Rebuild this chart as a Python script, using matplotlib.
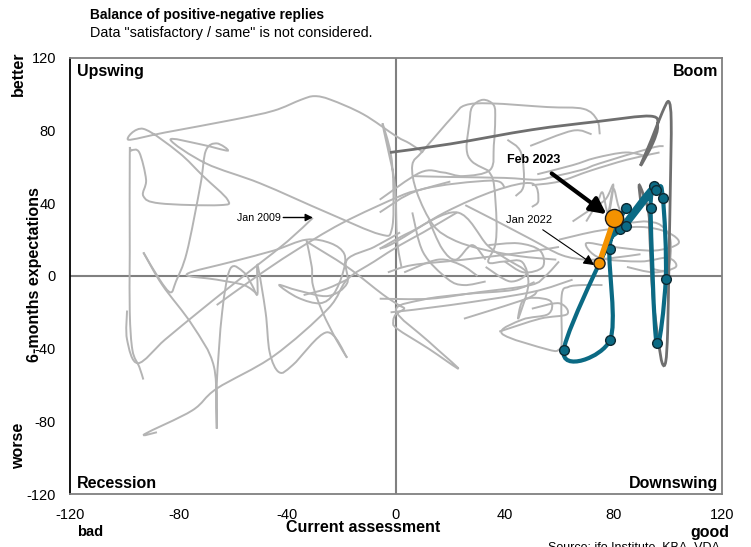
import numpy as np
import matplotlib
matplotlib.use("Agg")
import matplotlib.pyplot as plt
from matplotlib.path import Path
from matplotlib.patches import PathPatch

plt.rcParams["font.family"] = ["Liberation Sans", "DejaVu Sans"]
plt.rcParams["axes.unicode_minus"] = False

# ---- data (balance of replies) ----
# older history, light grey strokes (x = current assessment, y = expectations)
hist_a_x = [10, 5, 0, -12, -24, -30, -35, -45, -60, -85, -98.5, -93, -80, -71, -62, -65, -87, -93, -92, -94.5, -97.5, -98, -98, -98, -97, -94.5, -93]
hist_a_y = [68, 73, 77, 89, 97, 99, 97, 91, 86, 79, 75, 81, 68, 55, 42, 39, 40, 44, 53, 68, 69, 66, 13, -20, -41, -50, -57]

hist_b_x = [-30.6, -40, -51, -62, -72, -85, -95, -99, -99]
hist_b_y = [32, 19, 6, -7, -19, -35, -48, -35, -19]

hist_c_x = [2, 0.4, -0.4, -3, -5, -2, -1, -1.5, -6, -25.5, -50, -70, -83, -72, -62, -66, -70, -72, -77, -81, -83, -87, -93]
hist_c_y = [5, 20, 50, 70, 84, 68, 50, 26, 23, 35, 51, 62, 75, 72.5, 69, 73, 69, 50, 13, -3, -9, -2, 13]

hist_d_x = [-93, -86, -75, -67, -66, -66, -64, -61, -56, -53, -51, -51, -48, -46.5, -43, -38, -25.5, -18]
hist_d_y = [13, -5, -27, -50, -84, -60, -20, 4, 2, -5, -10, 6, -20, -42, -53, -49, -31, -45]

hist_e_x = [-88, -92.5, -75, -66, -45, -25, -18, -8, 1.5, 10, 22.5]
hist_e_y = [-86, -87, -74, -62, -44, -18, -2, 8, 17, 24, 35]

hist_f_x = [-66, -52, -38, -20, 1.5, 9, 20]
hist_f_y = [-16, -1, 13, 29, 44, 47.5, 52]

hist_g_x = [-51, -56, -66, -77, -60, -45, -33, -24, -19, -19.5, -23, -28, -36, -43, -36, -25, -18, -18, -8, 1.5]
hist_g_y = [-10, -5, -2, 1, 8, 14, 20, 18, 12, 2, -10, -15, -12, -5, -8, -11, -4, 9, 16, 24]

hist_h_x = [-33, -31, -30.6, -27, -22, -18]
hist_h_y = [20, 5, -5, -20, -35, -45]

hist_i_x = [-33, -18, -5, 1, 3, 0, -1, 0.4, 12, 23, 12, 0, 10, 25, 43, 51]
hist_i_y = [19, 5, -10, -16, -18, -21, -25, -29, -40, -51, -36, -19, -13, -10, -7.7, -3.3]

hist_j_x = [75, 74, 69, 55.7, 35, 25.5, 21, 10, 6, 7.7, 13.7, 21, 31, 45, 59]
hist_j_y = [78, 86, 92, 93, 95, 94, 88, 69, 61, 46, 28, 20, 15, 11, 9]

hist_k_x = [-6, 9, 17.3, 24.7, 34.7, 36, 36.5, 36, 32, 28, 27, 26, 28, 34]
hist_k_y = [42, 57, 57, 55, 58.5, 72, 86, 94, 97, 93, 84, 70, 63, 58]

hist_l_x = [6, 20, 40, 52, 58.7, 68.6, 75, 94, 98.5]
hist_l_y = [55, 54.5, 54, 53, 55, 58.5, 62, 70.5, 71.5]

hist_m_x = [25.5, 36.5, 50, 61, 70.5, 80, 90]
hist_m_y = [39, 30.6, 20, 11.5, 9, 10, 12]

hist_n_x = [-6, -0.4, 18, 36.5, 50, 52.4, 50]
hist_n_y = [15, 18.5, 35, 47, 51, 41.5, 38]

hist_o_x = [34, 36, 37, 36.5, 34, 40, 46.5, 48.7, 45, 46.5, 51, 57, 56, 46.5, 39, 56, 60, 61, 61, 63.5, 68.6, 76]
hist_o_y = [58, 51, 30, 17, 7.6, 8, 7.6, -5, -23.5, -14, -12, -14, -21, -24, -31.7, -40.5, -40.5, -36, -10.5, -6, -5, -5]

hist_p_x = [52, 65, 73.4, 84.5, 92]
hist_p_y = [56, 61, 65, 68, 66]

hist_q_x = [-6, 12.5, 30, 49.5, 55, 60]
hist_q_y = [-12.5, -12.5, -9, -5, 0, 8]

hist_r_x = [-2, 20, 49.5, 65]
hist_r_y = [-20, -16, -9, -2]

hist_s_x = [60, 75, 90, 100, 104, 95, 80, 70, 75, 90, 100, 103, 95, 85]
hist_s_y = [20, 25, 27, 24, 18, 14, 16, 18, 10, 8, 10, 5, 2, 5]

hist_t_x = [70, 74, 76, 78, 80, 82, 85, 92, 97.4, 101, 100, 94]
hist_t_y = [30, 40, 46, 35, 48, 38, 30, 30, 28, 20, 4, 4]

hist_u_x = [50, 60, 71.6, 85, 97]
hist_u_y = [50, 52, 58, 64, 68]

hist_v_x = [-6, 5, 22.5, 33.6, 40, 48, 42, 33]
hist_v_y = [15, 24, 35, 17, 10, 2, -3, 5]

hist_w_x = [-6, 9, 34.7, 40]
hist_w_y = [35, 47.5, 52.5, 49]

hist_x_x = [6, 10, 19, 25, 33]
hist_x_y = [35, 13, -1.6, -5, -3]

hist_y_x = [34, 45, 53, 54, 47, 40]
hist_y_y = [17, 18, 14, 5, 2, 8]

hist_z_x = [-3, 6, 25, 47, 60]
hist_z_y = [2, 6, 9, 13, 16]

hist_aa_x = [25, 48, 52]
hist_aa_y = [-23.5, -12.5, -8]

hist_ab_x = [38, 53, 63, 60, 50]
hist_ab_y = [-30.6, -23.5, -21, -15, -18]

hist_ac_x = [49.4, 65, 72]
hist_ac_y = [71.6, 80, 78]

hist_ad_x = [41, 46, 47, 44]
hist_ad_y = [75, 68, 50, 44]

hist_ae_x = [3, 15.5, 24, 30]
hist_ae_y = [2, 9, 6, 0]

hist_af_x = [12, 17, 22, 28, 33]
hist_af_y = [31, 15, 9, 17, 9]

hist_ag_x = [65, 70, 77, 80, 78]
hist_ag_y = [30, 35, 42, 50, 30]

hist_ah_x = [-34, -25.5, -18]
hist_ah_y = [-10.5, -7, -2]

hist_x = [hist_a_x, hist_b_x, hist_c_x, hist_d_x, hist_e_x, hist_f_x, hist_g_x, hist_h_x,
          hist_i_x, hist_j_x, hist_k_x, hist_l_x, hist_m_x, hist_n_x, hist_o_x, hist_p_x,
          hist_q_x, hist_r_x, hist_s_x, hist_t_x, hist_u_x, hist_v_x, hist_w_x, hist_x_x,
          hist_y_x, hist_z_x, hist_aa_x, hist_ab_x, hist_ac_x, hist_ad_x, hist_ae_x,
          hist_af_x, hist_ag_x, hist_ah_x]
hist_y = [hist_a_y, hist_b_y, hist_c_y, hist_d_y, hist_e_y, hist_f_y, hist_g_y, hist_h_y,
          hist_i_y, hist_j_y, hist_k_y, hist_l_y, hist_m_y, hist_n_y, hist_o_y, hist_p_y,
          hist_q_y, hist_r_y, hist_s_y, hist_t_y, hist_u_y, hist_v_y, hist_w_y, hist_x_y,
          hist_y_y, hist_z_y, hist_aa_y, hist_ab_y, hist_ac_y, hist_ad_y, hist_ae_y,
          hist_af_y, hist_ag_y, hist_ah_y]

# recent history (darker grey)
recent_x = [-2.2, 20, 50, 74, 93.7, 96.3, 94.5, 90, 94, 98, 100.4, 101.3, 101, 100.5, 100, 99.3, 98, 96.5, 94.5, 93.5, 93, 91, 89.5, 90]
recent_y = [68, 72.7, 80.5, 85, 88, 82.5, 73, 60.7, 75, 90, 96, 85, 50, 10, -30, -47, -48, -35, -10, 20, 35, 45, 50, 42]

# last twelve months (teal), Jan 2022 ... Jan 2023
last_x = [74.8, 84.5, 61.7, 78.7, 78.6, 82.4, 94.9, 93.7, 95.9, 99.3, 98.2, 95.6, 84.8]
last_y = [7.1, 37.7, -41, -35.5, 14.9, 25.8, 49.6, 37.3, -37, -1.5, 43.2, 47.4, 27.7]

# highlighted step (orange)
step_x = [74.8, 80.4]
step_y = [7.1, 31.7]

ticks = [-120, -80, -40, 0, 40, 80, 120]

GREY = "#b4b4b4"
DARK = "#6f6f6f"
TEAL = "#0b6a84"
ORANGE = "#f39200"


def smooth(xs, ys):
    # Catmull-Rom style smoothing, like Excel's "smoothed line"
    p = np.column_stack([xs, ys]).astype(float)
    verts = [p[0]]
    codes = [Path.MOVETO]
    n = len(p)
    for i in range(n - 1):
        p0 = p[i - 1] if i > 0 else p[i]
        p1 = p[i]
        p2 = p[i + 1]
        p3 = p[i + 2] if i + 2 < n else p[i + 1]
        verts += [p1 + (p2 - p0) / 6, p2 - (p3 - p1) / 6, p2]
        codes += [Path.CURVE4] * 3
    return Path(verts, codes)


fig = plt.figure(figsize=(7.51, 5.47), dpi=100)
ax = fig.add_axes([70 / 751, 1 - 494 / 547, 652 / 751, 436 / 547])
ax.set_xlim(-120, 120)
ax.set_ylim(-120, 120)

for xs, ys in zip(hist_x, hist_y):
    ax.add_patch(PathPatch(smooth(xs, ys), fc="none", ec=GREY, lw=1.4, zorder=2))
ax.add_patch(PathPatch(smooth(recent_x, recent_y), fc="none", ec=DARK, lw=2, zorder=3))
ax.add_patch(PathPatch(smooth(last_x, last_y), fc="none", ec=TEAL, lw=3, zorder=4,
                       capstyle="round"))
ax.plot(last_x[1:], last_y[1:], ls="none", marker="o", ms=7, mfc=TEAL, mec="#0d2a33",
        mew=1, zorder=5)
ax.plot(step_x, step_y, color=ORANGE, lw=4, zorder=6, solid_capstyle="round")
ax.plot(step_x[0], step_y[0], marker="o", ms=8, mfc=ORANGE, mec="#1a1a1a", mew=1, zorder=7)
ax.plot(step_x[1], step_y[1], marker="o", ms=13, mfc=ORANGE, mec="#1a1a1a", mew=1, zorder=7)

ax.axhline(0, color="#808080", lw=1.5, zorder=1)
ax.axvline(0, color="#808080", lw=1.5, zorder=1)

for s in ["top", "right", "bottom"]:
    ax.spines[s].set_color("#808080")
    ax.spines[s].set_linewidth(1.3)
ax.spines["left"].set_color("black")
ax.spines["left"].set_linewidth(1.3)

ax.set_xticks(ticks)
ax.set_yticks(ticks)
ax.tick_params(length=0, labelsize=10.5, colors="black")
ax.tick_params(axis="y", pad=10)
ax.tick_params(axis="x", pad=10)

# quadrant names
qk = dict(fontsize=11.5, fontweight="bold", transform=ax.transAxes)
ax.text(0.011, 0.987, "Upswing", ha="left", va="top", **qk)
ax.text(0.994, 0.987, "Boom", ha="right", va="top", **qk)
ax.text(0.011, 0.008, "Recession", ha="left", va="bottom", **qk)
ax.text(0.994, 0.008, "Downswing", ha="right", va="bottom", **qk)

# annotations
ax.annotate("Feb 2023", xy=(77.5, 34), xytext=(50.5, 64), ha="center", va="center",
            fontsize=9, fontweight="bold",
            arrowprops=dict(arrowstyle="-|>", color="black", lw=3, mutation_scale=24,
                            shrinkA=6, shrinkB=0))
ax.annotate("Jan 2022", xy=(73, 6), xytext=(49, 30.6), ha="center", va="center",
            fontsize=8,
            arrowprops=dict(arrowstyle="-|>", color="black", lw=0.8, mutation_scale=16,
                            shrinkA=2, shrinkB=0))
ax.annotate("Jan 2009", xy=(-30.6, 32.2), xytext=(-50.6, 32.2), ha="center", va="center",
            fontsize=7.7,
            arrowprops=dict(arrowstyle="-|>", color="black", lw=1, mutation_scale=11,
                            shrinkA=0, shrinkB=0))

# titles and axis texts
fig.text(90 / 751, 1 - 15 / 547, "Balance of positive-negative replies", fontsize=9.9,
         fontweight="bold", va="center")
fig.text(90 / 751, 1 - 33 / 547, 'Data "satisfactory / same" is not considered.',
         fontsize=10.4, va="center")
fig.text(18 / 751, 1 - 74 / 547, "better", rotation=90, fontsize=11.5, fontweight="bold",
         ha="center", va="center")
fig.text(19 / 751, 1 - 446 / 547, "worse", rotation=90, fontsize=11.5, fontweight="bold",
         ha="center", va="center")
fig.text(35 / 751, 1 - 275 / 547, "6-months expectations", rotation=90, fontsize=11.5,
         fontweight="bold", ha="center", va="center")
fig.text(90 / 751, 1 - 532 / 547, "bad", fontsize=10.5, fontweight="bold",
         ha="center", va="center")
fig.text(363 / 751, 1 - 527 / 547, "Current assessment", fontsize=11.5, fontweight="bold",
         ha="center", va="center")
fig.text(710 / 751, 1 - 533 / 547, "good", fontsize=11.5, fontweight="bold",
         ha="center", va="center")
fig.text(548 / 751, 1 - 541 / 547, "Source: ifo Institute, KBA, VDA", fontsize=9,
         ha="left", va="top")

fig.savefig("out.png", dpi=100)
